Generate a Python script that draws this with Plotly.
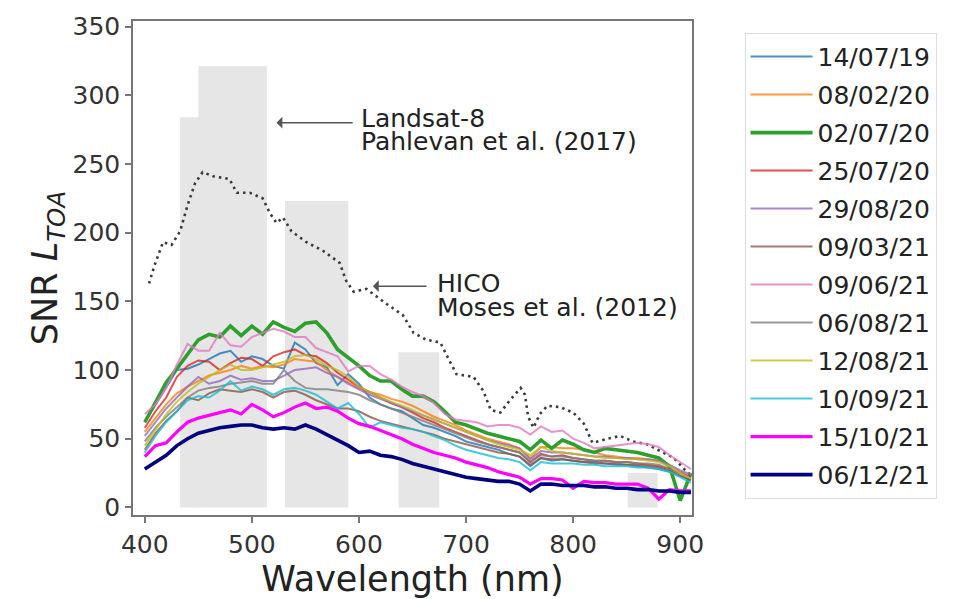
import plotly.graph_objects as go

# ---------------- data ----------------
wavelength = [400, 410, 420, 430, 440, 450, 460, 470, 480, 490,
              500, 510, 520, 530, 540, 550, 560, 570, 580, 590,
              600, 610, 620, 630, 640, 650, 660, 670, 680, 690,
              700, 710, 720, 730, 740, 750, 760, 770, 780, 790,
              800, 810, 820, 830, 840, 850, 860, 870, 880, 890,
              900, 910]

dates = ["14/07/19", "08/02/20", "02/07/20", "25/07/20", "29/08/20", "09/03/21",
         "09/06/21", "06/08/21", "12/08/21", "10/09/21", "15/10/21", "06/12/21"]

snr_140719 = [62, 75, 88, 100, 101, 104, 108, 112, 114, 106, 110, 108, 103, 101, 120, 115, 105, 102, 89, 97,
              90, 80, 75, 72, 70, 65, 60, 58, 55, 52, 48, 46, 44, 42, 39, 37, 30, 36, 34, 35,
              34, 33, 32, 32, 31, 31, 30, 29, 28, 26, 23, 20]
snr_080220 = [55, 65, 75, 83, 88, 92, 96, 98, 100, 103, 101, 103, 102, 104, 108, 107, 106, 100, 95, 91,
              87, 84, 82, 79, 77, 74, 70, 66, 63, 60, 56, 53, 50, 48, 46, 43, 36, 44, 44, 43,
              43, 42, 40, 38, 37, 36, 36, 35, 34, 30, 26, 22]
snr_020720 = [62, 76, 91, 101, 112, 122, 126, 124, 132, 125, 132, 126, 135, 131, 128, 134, 135, 127, 115, 109,
              103, 96, 92, 92, 86, 81, 81, 77, 70, 62, 60, 57, 54, 52, 50, 48, 42, 49, 43, 49,
              46, 42, 40, 43, 42, 41, 40, 38, 36, 30, 5, 25]
snr_250720 = [58, 70, 80, 95, 103, 107, 106, 100, 105, 109, 108, 103, 110, 113, 115, 111, 110, 105, 98, 93,
              88, 84, 80, 76, 73, 69, 65, 62, 58, 55, 52, 49, 46, 44, 42, 40, 33, 39, 37, 38,
              36, 35, 34, 34, 33, 33, 32, 31, 30, 28, 25, 22]
snr_290820 = [52, 62, 72, 80, 88, 95, 90, 92, 96, 93, 94, 92, 92, 96, 100, 101, 102, 98, 95, 90,
              86, 82, 79, 76, 73, 70, 67, 64, 61, 58, 55, 52, 49, 47, 45, 43, 35, 41, 40, 40,
              39, 38, 37, 37, 36, 36, 35, 35, 34, 31, 27, 24]
snr_090321 = [42, 54, 63, 70, 80, 78, 83, 86, 85, 84, 86, 84, 80, 84, 85, 82, 78, 75, 72, 72,
              70, 66, 63, 61, 59, 57, 55, 53, 50, 48, 46, 44, 42, 40, 39, 37, 31, 36, 35, 35,
              34, 33, 33, 32, 32, 31, 31, 30, 29, 27, 23, 20]
snr_090621 = [68, 75, 87, 104, 119, 114, 114, 127, 118, 117, 124, 127, 130, 128, 124, 124, 116, 113, 110, 99,
              103, 103, 97, 93, 88, 84, 81, 76, 68, 64, 63, 62, 59, 60, 60, 58, 53, 59, 55, 56,
              50, 47, 43, 44, 45, 46, 47, 46, 44, 38, 33, 28]
snr_060821 = [48, 58, 66, 73, 80, 85, 87, 88, 90, 91, 92, 90, 90, 100, 92, 87, 86, 86, 85, 84,
              82, 78, 75, 72, 69, 66, 63, 60, 57, 54, 51, 48, 46, 44, 42, 40, 33, 38, 37, 37,
              36, 35, 34, 34, 33, 33, 32, 32, 31, 28, 25, 21]
snr_120821 = [45, 57, 68, 77, 84, 90, 95, 100, 104, 100, 100, 102, 104, 106, 110, 111, 108, 103, 100, 95,
              88, 84, 80, 77, 74, 71, 67, 64, 61, 58, 55, 52, 49, 46, 44, 42, 38, 44, 41, 40,
              39, 38, 37, 36, 36, 35, 35, 34, 33, 30, 25, 21]
snr_100921 = [40, 52, 62, 70, 78, 81, 80, 85, 92, 85, 88, 86, 82, 86, 87, 85, 82, 77, 72, 76,
              68, 58, 62, 60, 58, 57, 55, 52, 49, 45, 42, 40, 38, 36, 35, 33, 27, 33, 32, 32,
              32, 31, 31, 30, 30, 30, 29, 29, 28, 26, 22, 18]
snr_151021 = [37, 45, 47, 55, 62, 65, 67, 69, 71, 68, 75, 71, 66, 69, 73, 76, 72, 73, 70, 65,
              61, 59, 56, 53, 50, 46, 43, 40, 38, 36, 33, 31, 29, 26, 24, 22, 17, 21, 21, 20,
              14, 19, 18, 18, 17, 17, 17, 14, 6, 13, 12, 12]
snr_061221 = [28, 33, 38, 45, 50, 54, 56, 58, 59, 60, 60, 58, 57, 58, 57, 60, 57, 53, 49, 45,
              40, 41, 38, 37, 35, 32, 30, 28, 26, 24, 22, 21, 20, 19, 19, 17, 12, 17, 17, 16,
              16, 16, 15, 15, 14, 14, 13, 13, 12, 12, 11, 11]

series = [snr_140719, snr_080220, snr_020720, snr_250720, snr_290820, snr_090321,
          snr_090621, snr_060821, snr_120821, snr_100921, snr_151021, snr_061221]

# HICO reference SNR (Moses et al. 2012)
hico_wl = [404, 409, 417, 425, 433, 440, 447, 454, 464, 479, 486, 498, 510, 517, 523, 529, 537,
           551, 566, 582, 588, 595, 607, 626, 641, 651, 663, 676, 685, 691, 707, 716, 723, 732,
           741, 751, 755, 758, 763, 769, 776, 788, 800, 810, 818, 832, 844, 856, 869, 881, 894,
           906, 911]
hico_snr = [163, 176, 193, 191, 201, 220, 236, 244, 241, 239, 229, 229, 225, 214, 207, 211, 201,
            193, 187, 178, 165, 157, 159, 148, 140, 127, 122, 120, 106, 97, 95, 85, 71, 69,
            78, 87, 82, 66, 58, 68, 74, 73, 69, 61, 47, 50, 52, 48, 46, 41, 36,
            26, 23]

# Landsat-8 OLI bands (Pahlevan et al. 2017)
band_lo = [433, 450, 531, 637, 851]
band_hi = [452, 514, 590, 675, 879]
band_snr = [284, 321, 223, 113, 25]

# ---------------- style ----------------
colors = ["#1f77b4", "#ff7f0e", "#2ca02c", "#d62728", "#9467bd", "#8c564b",
          "#e377c2", "#7f7f7f", "#bcbd22", "#17becf", "#ff00ff", "#000080"]
widths = [2, 2, 3.6, 2, 2, 2, 2, 2, 2, 2, 3.2, 3.6]
FONT = "DejaVu Sans"

fig = go.Figure()

fig.add_trace(go.Bar(
    x=[(a + b) / 2 for a, b in zip(band_lo, band_hi)],
    y=band_snr,
    width=[b - a for a, b in zip(band_lo, band_hi)],
    marker=dict(color="#e6e6e6", line=dict(width=0)),
    showlegend=False, hoverinfo="skip",
))

fig.add_trace(go.Scatter(
    x=hico_wl, y=hico_snr, mode="lines",
    line=dict(color="#3a3a3a", width=2.6, dash="2.5px,4px"),
    showlegend=False,
))

for i, (name, vals) in enumerate(zip(dates, series)):
    fig.add_trace(go.Scatter(
        x=wavelength, y=vals, mode="lines", name=name,
        legendgroup=name,
        line=dict(color=colors[i], width=widths[i]),
        opacity=0.8 if widths[i] < 3 else 1.0,
    ))

ann_font = dict(family=FONT, size=25, color="#222222")
annotations = [
    dict(x=600, y=283, text="Landsat-8", showarrow=False, xanchor="left", yanchor="middle", font=ann_font),
    dict(x=600, y=266, text="Pahlevan et al. (2017)", showarrow=False, xanchor="left", yanchor="middle", font=ann_font),
    dict(x=671, y=163, text="HICO", showarrow=False, xanchor="left", yanchor="middle", font=ann_font),
    dict(x=671, y=145.5, text="Moses et al. (2012)", showarrow=False, xanchor="left", yanchor="middle", font=ann_font),
    dict(x=523, y=280, ax=595.5, ay=280, axref="x", ayref="y", text="", showarrow=True,
         arrowhead=1, arrowsize=1.3, arrowwidth=1.5, arrowcolor="#555555", standoff=0, startstandoff=0),
    dict(x=613, y=161, ax=664.5, ay=161, axref="x", ayref="y", text="", showarrow=True,
         arrowhead=1, arrowsize=1.3, arrowwidth=1.5, arrowcolor="#555555", standoff=0, startstandoff=0),
]

axis_common = dict(
    showline=True, mirror=True, linecolor="#777777", linewidth=1.5,
    ticks="outside", ticklen=6, tickwidth=1.5, tickcolor="#777777",
    showgrid=False, zeroline=False,
    tickfont=dict(family=FONT, size=25, color="#333333"),
)

fig.update_layout(
    width=963, height=599,
    margin=dict(l=133, r=271, t=13, b=74),
    paper_bgcolor="white", plot_bgcolor="white",
    barmode="overlay",
    font=dict(family=FONT, color="#222222"),
    xaxis=dict(range=[389, 911], tickvals=[400, 500, 600, 700, 800, 900],
               title=dict(text="Wavelength (nm)", font=dict(family=FONT, size=35, color="#222222"), standoff=4),
               **axis_common),
    yaxis=dict(range=[-5.5, 354], tickvals=[0, 50, 100, 150, 200, 250, 300, 350],
               title=dict(text="SNR <i>L</i><sub><i>TOA</i></sub>", font=dict(family=FONT, size=35, color="#222222"), standoff=4),
               **axis_common),
    legend=dict(x=1.094, y=0.976, xanchor="left", yanchor="top",
                bordercolor="#dddddd", borderwidth=1, bgcolor="white",
                font=dict(family=FONT, size=25, color="#222222"),
                traceorder="grouped", tracegroupgap=2.5, itemwidth=62),
    annotations=annotations,
    showlegend=True,
)

fig.write_html("out.html")
